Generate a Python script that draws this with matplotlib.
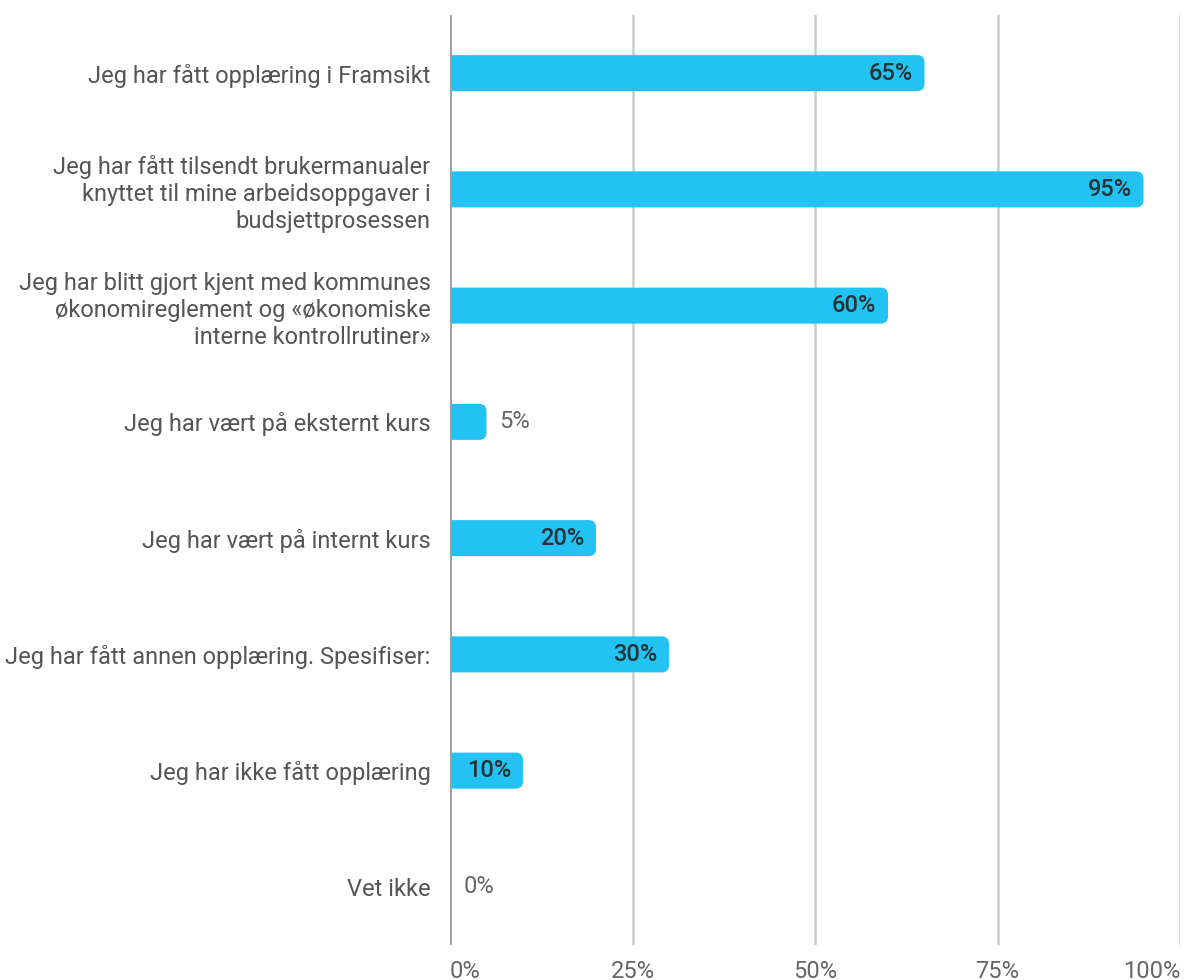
import matplotlib.pyplot as plt
from matplotlib.patches import FancyBboxPatch

categories = [
    "Jeg har fått opplæring i Framsikt",
    "Jeg har fått tilsendt brukermanualer\nknyttet til mine arbeidsoppgaver i\nbudsjettprosessen",
    "Jeg har blitt gjort kjent med kommunes\nøkonomireglement og «økonomiske\ninterne kontrollrutiner»",
    "Jeg har vært på eksternt kurs",
    "Jeg har vært på internt kurs",
    "Jeg har fått annen opplæring. Spesifiser:",
    "Jeg har ikke fått opplæring",
    "Vet ikke",
]
values = [65, 95, 60, 5, 20, 30, 10, 0]
ticks = [0, 25, 50, 75, 100]
tick_labels = ["0%", "25%", "50%", "75%", "100%"]

plt.rcParams['font.family'] = ['Roboto', 'DejaVu Sans']

fig = plt.figure(figsize=(11.86, 9.8), dpi=100)
ax = fig.add_axes([450 / 1186, 35 / 980, 730 / 1186, 930 / 980])
ax.set_xlim(0, 100)
ax.set_ylim(len(categories) - 0.5, -0.5)

bar_color = "#22c3f2"
bar_h = 0.31
# px per unit: x 7.3, y 116.25 -> aspect for round corners
aspect = (1 / 116.25) / (1 / 7.3)
for i, v in enumerate(values):
    x0 = -3
    patch = FancyBboxPatch((x0, i - bar_h / 2), v - x0, bar_h,
                           boxstyle="round,pad=0,rounding_size=1.0",
                           mutation_aspect=aspect,
                           facecolor=bar_color, edgecolor="none", zorder=3)
    ax.add_patch(patch)
    if v >= 10:
        ax.text(v - 1.6, i, f"{v}%", ha="right", va="center",
                fontsize=17, fontweight="medium", color="#263238", zorder=4)
    else:
        ax.text(v + 1.8, i, f"{v}%", ha="left", va="center",
                fontsize=17, color="#666666", zorder=4)

ax.set_yticks(range(len(categories)))
ax.set_yticklabels(categories, fontsize=17, color="#555555", linespacing=1.22)
ax.set_xticks(ticks)
ax.set_xticklabels(tick_labels, fontsize=17, color="#666666")
xl = ax.get_xticklabels()
xl[0].set_ha("left")
xl[0].set_x(-0.7)
xl[-1].set_ha("right")
ax.tick_params(axis="both", length=0)
ax.tick_params(axis="y", pad=14)
ax.tick_params(axis="x", pad=11)

for t in ticks[1:]:
    ax.axvline(t, color="#cccccc", lw=1.8, zorder=1)
ax.axvline(0, color="#9e9e9e", lw=2.0, zorder=5)

for s in ax.spines.values():
    s.set_visible(False)

fig.savefig("out.png", dpi=100)
